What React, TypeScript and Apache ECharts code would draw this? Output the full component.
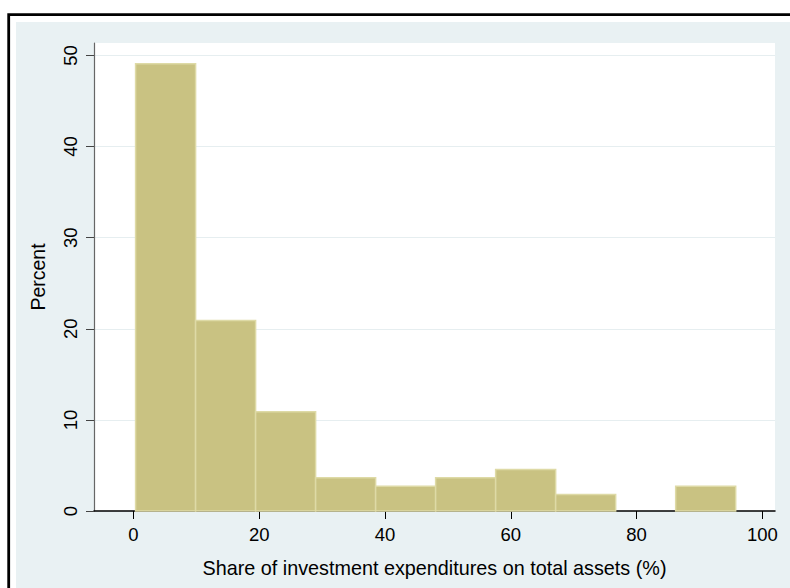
import React, { useEffect, useRef } from "react";
import * as echarts from "echarts";

const binStarts = [0.35, 9.89, 19.43, 28.97, 38.51, 48.05, 57.59, 67.13, 76.67, 86.21];
const binEnds = [9.89, 19.43, 28.97, 38.51, 48.05, 57.59, 67.13, 76.67, 86.21, 95.75];
const percents = [49.1, 20.9, 10.9, 3.64, 2.73, 3.64, 4.55, 1.82, 0, 2.73];
const xTicks = [0, 20, 40, 60, 80, 100];
const yTicks = [0, 10, 20, 30, 40, 50];
const xTitle = "Share of investment expenditures on total assets (%)";
const yTitle = "Percent";

const FONT = '"Liberation Sans", Arial, sans-serif';

export default function App() {
  const ref = useRef<HTMLDivElement>(null);
  useEffect(() => {
    if (!ref.current) return;
    const chart = echarts.init(ref.current, null, { renderer: "svg" });
    const data = binStarts.map((s, i) => [s, binEnds[i], percents[i]]);
    chart.setOption({
      animation: false,
      backgroundColor: "#ffffff",
      textStyle: { fontFamily: FONT },
      graphic: [
        {
          type: "rect",
          z: -20,
          shape: { x: 8.7, y: 14.7, width: 820, height: 620 },
          style: { fill: "#ffffff", stroke: "#000000", lineWidth: 2.8 },
          silent: true,
        },
        {
          type: "rect",
          z: -19,
          shape: { x: 16, y: 22, width: 800, height: 600 },
          style: { fill: "#E9F1F3" },
          silent: true,
        },
      ],
      grid: {
        left: 94,
        right: 15,
        top: 43,
        bottom: 77,
        show: true,
        backgroundColor: "#ffffff",
        borderWidth: 0,
        containLabel: false,
      },
      xAxis: {
        type: "value",
        min: -6.26,
        max: 102,
        name: xTitle,
        nameLocation: "middle",
        nameGap: 47,
        nameTextStyle: { fontSize: 19.8, color: "#000", fontFamily: FONT },
        axisLine: { show: true, onZero: false, lineStyle: { color: "#000", width: 1.5 } },
        axisTick: { show: true, length: 8, customValues: xTicks, lineStyle: { color: "#000", width: 1 } },
        axisLabel: { customValues: xTicks, margin: 14, fontSize: 18.5, color: "#000", fontFamily: FONT },
        splitLine: { show: false },
      },
      yAxis: {
        type: "value",
        min: 0,
        max: 51.37,
        name: yTitle,
        nameLocation: "middle",
        nameGap: 46,
        nameRotate: 90,
        nameTextStyle: { fontSize: 19.5, color: "#000", fontFamily: FONT },
        axisLine: { show: true, onZero: false, lineStyle: { color: "#666", width: 1.2 } },
        axisTick: { show: true, length: 8, customValues: yTicks, lineStyle: { color: "#444", width: 1 } },
        axisLabel: { customValues: yTicks, rotate: 90, margin: 14, fontSize: 18.5, color: "#000", fontFamily: FONT },
        splitLine: { show: true, lineStyle: { color: "#E6EEF0", width: 1.2 } },
      },
      series: [
        {
          type: "custom",
          data,
          encode: { x: [0, 1], y: 2 },
          renderItem: (params: any, api: any) => {
            const h = api.value(2);
            if (!h) return null;
            const p1 = api.coord([api.value(0), h]);
            const p2 = api.coord([api.value(1), 0]);
            return {
              type: "rect",
              shape: { x: p1[0], y: p1[1], width: p2[0] - p1[0], height: p2[1] - p1[1] },
              style: { fill: "#C9C282", stroke: "#DEDAA6", lineWidth: 1.5 },
            };
          },
        },
      ],
    });
    return () => chart.dispose();
  }, []);
  return (
    <div
      ref={ref}
      style={{ position: "absolute", left: 0, top: 0, width: 790, height: 588 }}
    />
  );
}
